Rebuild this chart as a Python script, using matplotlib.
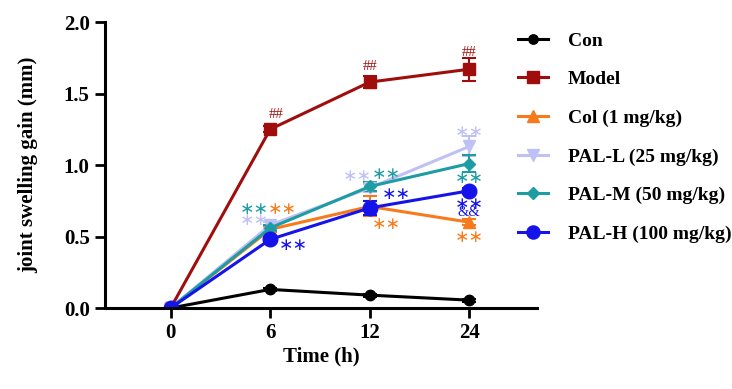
import numpy as np
import matplotlib.pyplot as plt
from matplotlib.lines import Line2D

plt.rcParams['font.family'] = ['Liberation Serif', 'DejaVu Serif']
plt.rcParams['font.weight'] = 'bold'

# ----------------------------------------
# Data
# ----------------------------------------
time_labels = ["0", "6", "12", "24"]

con = [0.0, 0.13, 0.09, 0.055]
model = [0.0, 1.25, 1.58, 1.67]
col = [0.0, 0.55, 0.71, 0.60]
pal_l = [0.0, 0.58, 0.84, 1.13]
pal_m = [0.0, 0.56, 0.85, 1.01]
pal_h = [0.0, 0.48, 0.70, 0.82]

con_err = [0.0, 0.01, 0.01, 0.01]
model_err = [0.0, 0.02, 0.04, 0.08]
col_err = [0.0, 0.02, 0.07, 0.02]
pal_l_err = [0.0, 0.02, 0.03, 0.07]
pal_m_err = [0.0, 0.02, 0.03, 0.06]
pal_h_err = [0.0, 0.02, 0.05, 0.02]

names = ["Con", "Model", "Col (1 mg/kg)", "PAL-L (25 mg/kg)",
         "PAL-M (50 mg/kg)", "PAL-H (100 mg/kg)"]

# significance marks: (text, x index, y, colour key)
sig_marks = [
    ("##", 1.06, 1.35, "model"), ("##", 2.0, 1.69, "model"), ("##", 3.0, 1.79, "model"),
    ("**", 0.84, 0.69, "pal_m"), ("**", 1.12, 0.69, "col"), ("**", 0.84, 0.615, "pal_l"),
    ("**", 1.23, 0.44, "pal_h"),
    ("**", 1.87, 0.92, "pal_l"), ("**", 2.17, 0.94, "pal_m"), ("**", 2.27, 0.80, "pal_h"),
    ("**", 2.17, 0.59, "col"),
    ("**", 3.0, 1.23, "pal_l"), ("**", 3.0, 0.91, "pal_m"), ("**", 3.0, 0.73, "pal_h"),
    ("&&", 3.0, 0.665, "pal_h"), ("**", 3.0, 0.50, "col"),
]

colors = {
    "con": "#000000",
    "model": "#A00D0D",
    "col": "#F77B1C",
    "pal_l": "#BFC0F5",
    "pal_m": "#1E9CA3",
    "pal_h": "#1414EA",
}

# ----------------------------------------
# Plot
# ----------------------------------------
fig = plt.figure(figsize=(7.32, 3.89), dpi=100)
ax = fig.add_axes([0.1434, 0.2082, 0.5902, 0.7352])

x = np.arange(len(time_labels))
series = [
    (con, con_err, "con", "o", 7.5),
    (model, model_err, "model", "s", 9),
    (col, col_err, "col", "^", 9),
    (pal_l, pal_l_err, "pal_l", "v", 9),
    (pal_m, pal_m_err, "pal_m", "D", 6.5),
    (pal_h, pal_h_err, "pal_h", "o", 10.5),
]

handles = []
for (vals, err, key, mk, ms), name in zip(series, names):
    ax.errorbar(x, vals, yerr=err, color=colors[key], marker=mk, ms=ms,
                lw=2.2, elinewidth=1.5, capsize=5, capthick=1.5)
    handles.append(Line2D([], [], color=colors[key], marker=mk, ms=ms * 0.9,
                          lw=2.2, label=name))

for txt, xi, yi, key in sig_marks:
    if txt == "**":
        ax.text(xi, yi, "\u2217\u2217", color=colors[key], fontsize=12.5,
                ha="center", va="center", family="DejaVu Sans", fontweight="normal")
    else:
        ax.text(xi, yi, txt, color=colors[key], fontsize=10.5,
                ha="center", va="center", fontweight="normal")

ax.set_xlim(-0.66, 3.68)
ax.set_ylim(0, 2.0)
ax.set_xticks(x)
ax.set_xticklabels(time_labels)
ax.set_yticks([0.0, 0.5, 1.0, 1.5, 2.0])
ax.set_yticklabels(["0.0", "0.5", "1.0", "1.5", "2.0"])
ax.tick_params(axis="both", labelsize=15, width=2, length=7, direction="out")
ax.tick_params(axis="y", pad=4)

for s in ["top", "right"]:
    ax.spines[s].set_visible(False)
for s in ["left", "bottom"]:
    ax.spines[s].set_linewidth(2.2)

ax.set_xlabel("Time (h)", fontsize=15, fontweight="bold", labelpad=3)
ax.set_ylabel("joint swelling gain (mm)", fontsize=15, fontweight="bold")
ax.yaxis.set_label_coords(-0.155, 0.5)

fig.legend(handles=handles, loc="upper left", bbox_to_anchor=(518 / 732, 1 - 32 / 389),
           frameon=False, fontsize=14, labelspacing=1.08, handlelength=1.55,
           handletextpad=1.0, borderpad=0, borderaxespad=0)

fig.savefig("out.png", dpi=100)
